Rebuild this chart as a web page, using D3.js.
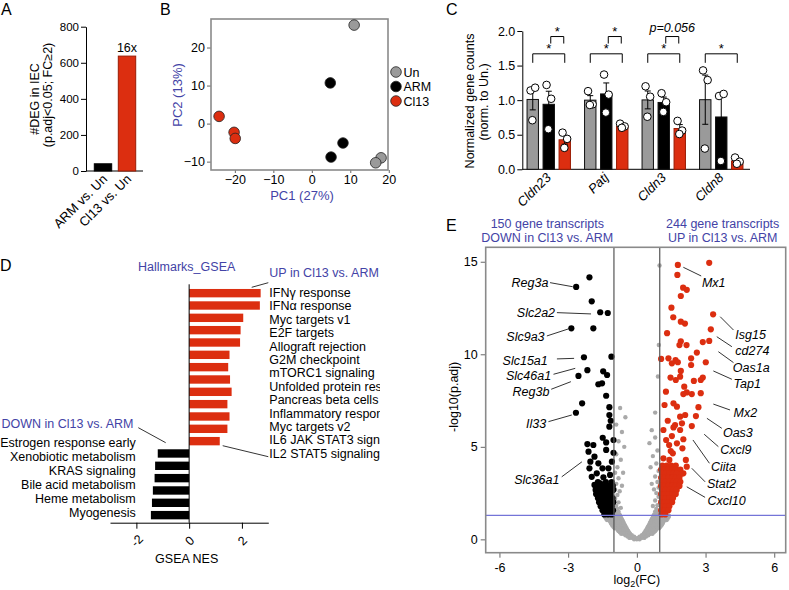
<!DOCTYPE html>
<html><head><meta charset="utf-8">
<script src="https://cdn.jsdelivr.net/npm/d3@7"></script>
<style>body{margin:0;background:#fff}</style>
</head><body>
<svg id="c" width="789" height="590"></svg>
<script>
// ---------------- DATA ----------------
// Panel A
const degCats = ["ARM vs. Un", "Cl13 vs. Un"];
const degValues = [40, 637];
const degTicks = [0, 200, 400, 600, 800];
const degFoldLabel = "16x";

// Panel B (PCA)
const pcaGroups = ["Un", "ARM", "Cl13"];
const pcaGroupOf = ["Un", "Un", "Un", "ARM", "ARM", "ARM", "Cl13", "Cl13", "Cl13"];
const pcaPC1 = [11.0, 18.0, 16.6, 4.8, 8.1, 5.0, -24.1, -20.2, -19.9];
const pcaPC2 = [25.9, -9.0, -10.3, 10.7, -5.1, -8.8, 1.9, -2.3, -3.9];
const pcaTicksX = [-20, -10, 0, 10, 20];
const pcaTicksY = [-10, 0, 10, 20];

// Panel C
const geneCats = ["Cldn23", "Patj", "Cldn3", "Cldn8"];
const geneUn   = [[1.14, 1.18, 0.71], [1.13, 0.94, 0.93], [1.20, 1.05, 0.76], [1.43, 1.29, 0.30]];
const geneARM  = [[1.22, 1.02, 0.58], [1.37, 1.08, 0.82], [1.10, 0.97, 0.83], [1.06, 1.09, 0.12]];
const geneCl13 = [[0.53, 0.44, 0.31], [0.66, 0.62, 0.60], [0.70, 0.56, 0.51], [0.17, 0.11, 0.08]];
const geneTicks = [0, 0.5, 1.0, 1.5, 2.0];
const sigLong  = ["*", "*", "*", "*"];        // Un vs Cl13
const sigShort = ["*", "*", "p=0.056", null]; // ARM vs Cl13
const sigLongLevel = 1.67, sigShortLevel = 1.92;

// Panel D (GSEA)
const gseaUpNames = ["IFN\u03b3 response", "IFN\u03b1 response", "Myc targets v1", "E2F targets",
  "Allograft rejection", "G2M checkpoint", "mTORC1 signaling", "Unfolded protein response",
  "Pancreas beta cells", "Inflammatory response", "Myc targets v2", "IL6 JAK STAT3 signaling",
  "IL2 STAT5 signaling"];
const gseaUpNES = [2.71, 2.68, 2.05, 1.95, 1.93, 1.53, 1.48, 1.55, 1.61, 1.45, 1.53, 1.45, 1.16];
const gseaDownNames = ["Estrogen response early", "Xenobiotic metabolism", "KRAS signaling",
  "Bile acid metabolism", "Heme metabolism", "Myogenesis"];
const gseaDownNES = [-1.19, -1.29, -1.31, -1.375, -1.41, -1.45];
const gseaTicks = [-2, 0, 2];

// Panel E (volcano) [log2FC, -log10 p.adj]
const volcanoDown = [
 [-2.07,14.16],[-2.65,13.64],[-1.97,12.86],[-1.60,12.27],[-1.27,12.23],[-2.86,11.40],[-1.90,11.40],
 [-2.31,9.84],[-1.11,9.87],[-2.16,9.14],[-1.47,9.08],[-1.30,8.88],[-2.55,8.83],[-1.68,8.38],[-1.52,8.43],
 [-1.34,7.76],[-2.39,7.35],[-2.66,6.84],[-1.20,7.14],[-1.20,6.72],[-1.14,6.41],[-1.20,6.09],[-1.49,5.49],
 [-2.16,5.15],[-1.90,5.10],[-1.02,5.37],[-1.34,5.24],[-1.34,4.83],[-2.11,4.74],[-1.85,4.47],[-1.02,4.68],
 [-2.03,4.20],[-1.68,4.11],[-1.09,4.20],[-2.07,3.84],[-1.50,3.84],[-1.24,3.84],[-1.97,3.38],[-1.75,3.57],
 [-1.46,3.35],[-1.17,3.48],[-1.85,2.94],[-1.60,3.03],
 [-1.70,3.10],[-1.35,3.10],[-1.10,3.10],
 [-1.75,2.89],[-1.55,2.89],[-1.38,2.89],[-1.20,2.89],[-1.05,2.89],
 [-1.80,2.67],[-1.64,2.67],[-1.48,2.67],[-1.32,2.67],[-1.16,2.67],[-1.03,2.67],
 [-1.78,2.45],[-1.62,2.45],[-1.46,2.45],[-1.30,2.45],[-1.14,2.45],
 [-1.70,2.23],[-1.54,2.23],[-1.38,2.23],[-1.22,2.23],[-1.06,2.23],
 [-1.65,2.01],[-1.49,2.01],[-1.33,2.01],[-1.17,2.01],[-1.03,2.01],
 [-1.58,1.79],[-1.42,1.79],[-1.26,1.79],[-1.10,1.79],
 [-1.50,1.57],[-1.34,1.57],[-1.18,1.57],[-1.04,1.57],
 [-1.42,1.35],[-1.26,1.35],[-1.10,1.35]
];
const volcanoUp = [
 [3.16,14.94],[1.79,14.83],[1.77,14.29],[2.02,13.60],[2.18,13.48],[1.92,13.15],[1.51,12.52],[3.33,12.16],
 [1.59,12.00],[1.92,11.76],[2.10,11.66],[3.23,11.35],[1.32,11.14],[3.16,10.72],[2.88,10.66],[1.92,10.70],
 [1.86,10.50],[2.17,10.50],[2.62,10.09],[1.06,9.75],[1.38,9.78],[1.69,9.69],[2.37,9.78],[1.53,9.51],
 [1.79,9.57],[2.37,9.42],[3.01,9.57],[1.92,9.10],[1.47,8.74],[1.70,8.61],[1.89,8.79],[2.49,8.56],
 [2.88,8.74],[2.79,8.61],[2.07,8.25],[1.27,7.98],[2.18,7.94],[2.79,7.90],[2.03,7.85],[2.40,7.85],
 [1.21,7.26],[1.60,7.35],[1.75,7.17],[2.69,7.14],[2.11,6.72],[1.89,6.63],[2.58,6.66],[1.35,6.41],
 [1.67,6.18],[1.97,6.27],[2.40,6.12],[1.16,5.91],[1.60,6.05],[1.89,5.91],[1.53,5.58],[2.03,5.41],
 [1.28,5.37],[1.41,5.10],[1.75,5.19],[1.99,4.92],[1.48,4.77],[1.57,4.65],[2.14,4.29],[1.16,4.38],
 [1.42,4.29],[2.18,3.93],[2.03,3.57],
 [1.12,3.99],[1.30,3.99],[1.50,3.99],[1.70,3.99],
 [1.06,3.77],[1.22,3.77],[1.38,3.77],[1.54,3.77],[1.70,3.77],[1.90,3.77],
 [1.10,3.55],[1.26,3.55],[1.42,3.55],[1.58,3.55],[1.74,3.55],[1.95,3.55],
 [1.06,3.33],[1.22,3.33],[1.38,3.33],[1.54,3.33],[1.70,3.33],[1.86,3.33],
 [1.10,3.11],[1.26,3.11],[1.42,3.11],[1.58,3.11],[1.74,3.11],[1.90,3.11],
 [1.06,2.89],[1.22,2.89],[1.38,2.89],[1.54,2.89],[1.70,2.89],[1.86,2.89],
 [1.10,2.67],[1.26,2.67],[1.42,2.67],[1.58,2.67],[1.74,2.67],
 [1.06,2.45],[1.22,2.45],[1.38,2.45],[1.54,2.45],[1.70,2.45],
 [1.10,2.23],[1.26,2.23],[1.42,2.23],[1.58,2.23],
 [1.06,2.01],[1.22,2.01],[1.38,2.01],[1.54,2.01],
 [1.10,1.79],[1.26,1.79],[1.42,1.79],
 [1.06,1.57],[1.22,1.57],[1.38,1.57],
 [1.08,1.35],[1.24,1.35]
];
const volcanoNS = [
 [-0.12,0.00],[0.00,0.00],[0.12,0.00],
 [-0.32,0.08],[-0.20,0.08],[-0.07,0.08],[0.07,0.08],[0.20,0.08],[0.32,0.08],
 [-0.40,0.15],[-0.26,0.15],[-0.12,0.15],[0.12,0.15],[0.26,0.15],[0.40,0.15],
 [-0.50,0.22],[-0.36,0.22],[-0.22,0.22],[0.22,0.22],[0.36,0.22],[0.50,0.22],
 [-0.68,0.30],[-0.58,0.30],[-0.44,0.30],[-0.30,0.30],[0.30,0.30],[0.44,0.30],[0.58,0.30],[0.68,0.30],
 [-0.74,0.38],[-0.62,0.38],[-0.48,0.38],[-0.34,0.38],[0.34,0.38],[0.48,0.38],[0.62,0.38],[0.74,0.38],
 [-0.80,0.45],[-0.66,0.45],[-0.52,0.45],[-0.38,0.45],[0.38,0.45],[0.52,0.45],[0.66,0.45],[0.80,0.45],
 [-0.84,0.52],[-0.70,0.52],[-0.56,0.52],[-0.42,0.52],[0.42,0.52],[0.56,0.52],[0.70,0.52],[0.84,0.52],
 [-0.97,0.60],[-0.87,0.60],[-0.73,0.60],[-0.59,0.60],[-0.45,0.60],[0.45,0.60],[0.59,0.60],[0.73,0.60],[0.87,0.60],[0.97,0.60],
 [-1.02,0.68],[-0.91,0.68],[-0.77,0.68],[-0.63,0.68],[-0.49,0.68],[0.49,0.68],[0.63,0.68],[0.77,0.68],[0.91,0.68],[1.02,0.68],
 [-1.07,0.75],[-0.94,0.75],[-0.80,0.75],[-0.66,0.75],[-0.52,0.75],[0.52,0.75],[0.66,0.75],[0.80,0.75],[0.94,0.75],[1.07,0.75],
 [-1.10,0.82],[-0.97,0.82],[-0.83,0.82],[-0.69,0.82],[-0.55,0.82],[0.55,0.82],[0.69,0.82],[0.83,0.82],[0.97,0.82],[1.10,0.82],
 [-1.14,0.90],[-1.00,0.90],[-0.86,0.90],[-0.72,0.90],[-0.58,0.90],[0.58,0.90],[0.72,0.90],[0.86,0.90],[1.00,0.90],[1.14,0.90],
 [-1.17,0.98],[-1.03,0.98],[-0.89,0.98],[-0.75,0.98],[-0.61,0.98],[0.61,0.98],[0.75,0.98],[0.89,0.98],[1.03,0.98],[1.17,0.98],
 [-1.30,1.05],[-1.20,1.05],[-1.06,1.05],[-0.92,1.05],[-0.78,1.05],[-0.64,1.05],[0.64,1.05],[0.78,1.05],[0.92,1.05],[1.06,1.05],[1.20,1.05],[1.30,1.05],
 [-1.34,1.12],[-1.23,1.12],[-1.09,1.12],[-0.95,1.12],[-0.81,1.12],[-0.67,1.12],[0.67,1.12],[0.81,1.12],[0.95,1.12],[1.09,1.12],[1.23,1.12],[1.34,1.12],
 [-1.38,1.20],[-1.26,1.20],[-1.12,1.20],[-0.98,1.20],[-0.84,1.20],[-0.70,1.20],[0.70,1.20],[0.84,1.20],[0.98,1.20],[1.12,1.20],[1.26,1.20],[1.38,1.20],
 [-1.40,1.28],[-1.29,1.28],[-1.15,1.28],[-1.01,1.28],[-0.87,1.28],[-0.73,1.28],[0.73,1.28],[0.87,1.28],[1.01,1.28],[1.15,1.28],[1.29,1.28],[1.40,1.28],
 [-0.90,1.35],[-0.76,1.35],[0.76,1.35],[0.90,1.35],
 [-0.94,1.50],[-0.80,1.50],[0.80,1.50],[0.94,1.50],
 [-0.85,1.65],[-0.70,1.70],[-0.90,1.80],[-0.80,2.00],[-0.95,2.20],[-0.85,2.40],
 [-0.95,2.70],[-0.75,2.60],[-0.90,3.00],[-0.65,2.90],[-0.80,3.30],[-0.95,3.60],[-0.60,3.60],[-0.85,3.90],
 [-0.70,4.30],[-0.90,4.60],[-0.55,5.00],[-0.80,5.30],[-0.65,5.80],[-0.90,6.20],[-0.50,6.60],[-0.73,7.10],
 [0.85,1.65],[0.70,1.80],[0.90,1.85],[0.80,2.10],[0.95,2.30],[0.85,2.50],
 [0.95,2.80],[0.75,2.70],[0.90,3.10],[0.65,3.00],[0.80,3.40],[0.95,3.70],[0.60,3.90],[0.85,4.10],
 [0.70,4.50],[0.90,4.80],[0.55,5.20],[0.80,5.50],[0.65,5.90],[0.80,6.85],[0.92,8.80],[0.96,10.50],[0.99,14.80]
];
const volcanoTicksX = [-6, -3, 0, 3, 6];
const volcanoTicksY = [0, 5, 10, 15];
const fcCut = 1, pCut = 1.301;
// gene labels: [name, side, textFC, textP, lineFromFC, lineFromP, lineToFC, lineToP]
const volcanoLabels = [
 ["Reg3a","L",-3.86,13.89,-3.79,13.87,-2.80,13.65],
 ["Slc2a2","L",-3.57,12.27,-3.49,12.25,-2.00,12.18],
 ["Slc9a3","L",-4.03,10.95,-3.93,10.99,-2.99,11.37],
 ["Slc15a1","L",-3.89,9.65,-3.49,9.75,-2.74,9.78],
 ["Slc46a1","L",-3.74,8.83,-3.64,8.92,-2.69,9.24],
 ["Reg3b","L",-3.82,7.96,-3.74,8.11,-2.88,8.52],
 ["Il33","L",-3.96,6.23,-3.86,6.36,-2.84,6.72],
 ["Slc36a1","L",-3.38,3.24,-3.28,3.38,-2.40,4.19],
 ["Mx1","R",2.84,13.87,2.03,14.70,2.81,14.23],
 ["Isg15","R",4.30,11.04,3.64,12.03,4.22,11.31],
 ["cd274","R",4.30,10.18,3.49,10.95,4.15,10.41],
 ["Oas1a","R",4.19,9.30,3.56,10.14,4.22,9.55],
 ["Tap1","R",4.22,8.43,3.34,9.10,4.15,8.65],
 ["Mx2","R",4.22,6.84,3.34,7.31,4.07,6.99],
 ["Oas3","R",3.76,5.76,3.06,6.54,3.71,6.00],
 ["Cxcl9","R",3.64,4.83,2.94,5.68,3.56,5.01],
 ["Ciita","R",3.24,3.92,2.45,5.37,3.17,4.11],
 ["Stat2","R",3.06,3.03,2.40,3.84,2.98,3.11],
 ["Cxcl10","R",3.08,2.12,2.18,2.84,2.98,2.27]
];

// ---------------- STYLE ----------------
const FONT = '"Liberation Sans", Arial, Helvetica, sans-serif';
const RED = "#dc2e10", RED_DARK = "#9a1c04", GRAY = "#9a9a9a", BLUE = "#4343a6";
const groupColor = {Un: GRAY, ARM: "#000", Cl13: RED};

const svg = d3.select("#c").attr("font-family", FONT);

function styleAxis(g, fs) {
  g.attr("font-family", FONT).attr("font-size", fs);
  g.selectAll("text").attr("fill", "#000");
  g.selectAll("line,path").attr("stroke", "#000").attr("stroke-width", 1);
  return g;
}
function panelLetter(t, x, y) {
  svg.append("text").attr("x", x).attr("y", y).attr("font-size", 16).text(t);
}

// ---------------- PANEL A ----------------
panelLetter("A", 1, 15);
const aY = d3.scaleLinear().domain([0, 800]).range([171, 26.7]);
const aX = d3.scaleBand().domain(degCats).range([91, 139]).paddingInner(0.275).paddingOuter(0.1375);
styleAxis(svg.append("g").attr("transform", "translate(86,0)")
  .call(d3.axisLeft(aY).tickValues(degTicks).tickSize(5).tickPadding(2).tickSizeOuter(0)), 11.5);
svg.append("line").attr("x1", 86).attr("x2", 143).attr("y1", aY(0)).attr("y2", aY(0)).attr("stroke", "#000");
svg.selectAll(".barA").data(degCats).enter().append("rect")
  .attr("x", d => aX(d)).attr("width", aX.bandwidth())
  .attr("y", (d, i) => aY(degValues[i])).attr("height", (d, i) => aY(0) - aY(degValues[i]))
  .attr("fill", (d, i) => i === 0 ? "#000" : RED)
  .attr("stroke", (d, i) => i === 0 ? "#000" : RED_DARK).attr("stroke-width", 1);
svg.append("text").attr("x", aX(degCats[1]) + aX.bandwidth() / 2).attr("y", aY(degValues[1]) - 4)
  .attr("text-anchor", "middle").attr("font-size", 12.5).text(degFoldLabel);
degCats.forEach(c => {
  svg.append("text").attr("transform", `translate(${aX(c) + aX.bandwidth() / 2 + 5},${aY(0) + 9}) rotate(-45)`)
    .attr("text-anchor", "end").attr("font-size", 13).text(c);
});
svg.append("text").attr("transform", "translate(39,99) rotate(-90)").attr("text-anchor", "middle")
  .attr("font-size", 12.5).text("#DEG in IEC");
svg.append("text").attr("transform", "translate(52,95) rotate(-90)").attr("text-anchor", "middle")
  .attr("font-size", 12.5).text("(p.adj<0.05; FC\u22652)");

// ---------------- PANEL B ----------------
panelLetter("B", 160, 15);
const bX = d3.scaleLinear().domain([-26.2, 19.8]).range([211, 388]);
const bY = d3.scaleLinear().domain([-12.2, 27.5]).range([170, 19]);
const gxB = svg.append("g").attr("transform", `translate(0,${bY.range()[0]})`)
  .call(d3.axisBottom(bX).tickValues(pcaTicksX).tickSize(3).tickPadding(2).tickSizeOuter(0));
const gyB = svg.append("g").attr("transform", `translate(${bX.range()[0]},0)`)
  .call(d3.axisLeft(bY).tickValues(pcaTicksY).tickSize(4).tickPadding(2).tickSizeOuter(0));
[gxB, gyB].forEach(g => { styleAxis(g, 12.5); g.select(".domain").remove(); g.selectAll("line").attr("stroke", "#666"); });
svg.append("rect").attr("x", bX.range()[0]).attr("y", bY.range()[1])
  .attr("width", bX.range()[1] - bX.range()[0]).attr("height", bY.range()[0] - bY.range()[1])
  .attr("fill", "none").attr("stroke", "#8a8a8a").attr("stroke-width", 1.6);
svg.selectAll(".pt").data(pcaPC1).enter().append("circle")
  .attr("cx", d => bX(d)).attr("cy", (d, i) => bY(pcaPC2[i])).attr("r", 5.3)
  .attr("fill", (d, i) => groupColor[pcaGroupOf[i]]).attr("stroke", "#222").attr("stroke-width", 0.8);
pcaGroups.forEach((g, i) => {
  svg.append("circle").attr("cx", 396).attr("cy", 72 + i * 14.5).attr("r", 5.3)
    .attr("fill", groupColor[g]).attr("stroke", "#222").attr("stroke-width", 0.8);
  svg.append("text").attr("x", 403.5).attr("y", 72 + i * 14.5 + 4.5).attr("font-size", 12.5).text(g);
});
svg.append("text").attr("x", 302).attr("y", 200).attr("text-anchor", "middle").attr("font-size", 13)
  .attr("fill", BLUE).text("PC1 (27%)");
svg.append("text").attr("transform", "translate(182,95) rotate(-90)").attr("text-anchor", "middle")
  .attr("font-size", 13).attr("fill", BLUE).text("PC2 (13%)");

// ---------------- PANEL C ----------------
panelLetter("C", 446, 15);
const cY = d3.scaleLinear().domain([0, 2]).range([169.3, 31]);
const cX0 = d3.scaleBand().domain(geneCats).range([520, 750]);
const cX1 = d3.scaleBand().domain(pcaGroups).range([-24, 24]).paddingInner(0.2875).paddingOuter(0.14375);
styleAxis(svg.append("g").attr("transform", "translate(522.3,0)")
  .call(d3.axisLeft(cY).tickValues(geneTicks).tickFormat(d3.format(".1f")).tickSize(5).tickPadding(2).tickSizeOuter(0)), 12.5);
svg.append("line").attr("x1", 522.3).attr("x2", 750).attr("y1", cY(0)).attr("y2", cY(0)).attr("stroke", "#000");
const geneSets = {Un: geneUn, ARM: geneARM, Cl13: geneCl13};
const jitter = [-2.2, 2.4, -0.4];
geneCats.forEach((gene, gi) => {
  const gc = cX0(gene) + cX0.bandwidth() / 2;
  const centerOf = grp => gc + cX1(grp) + cX1.bandwidth() / 2;
  pcaGroups.forEach(grp => {
    const vals = geneSets[grp][gi];
    const mean = d3.mean(vals);
    const sem = d3.deviation(vals) / Math.sqrt(vals.length);
    const x = gc + cX1(grp);
    const cx = x + cX1.bandwidth() / 2;
    svg.append("rect").attr("x", x).attr("width", cX1.bandwidth())
      .attr("y", cY(mean)).attr("height", cY(0) - cY(mean))
      .attr("fill", groupColor[grp]).attr("stroke", grp === "Cl13" ? RED_DARK : "#111").attr("stroke-width", 1);
    svg.append("line").attr("x1", cx).attr("x2", cx).attr("y1", cY(mean - sem)).attr("y2", cY(mean + sem)).attr("stroke", "#000");
    [mean - sem, mean + sem].forEach(v => svg.append("line").attr("x1", cx - 3).attr("x2", cx + 3)
      .attr("y1", cY(v)).attr("y2", cY(v)).attr("stroke", "#000"));
    vals.forEach((v, k) => svg.append("circle").attr("cx", cx + jitter[k]).attr("cy", cY(v)).attr("r", 3.8)
      .attr("fill", "#fff").attr("stroke", "#000").attr("stroke-width", 1));
  });
  const drawBracket = (x1, x2, lvl, label, drop) => {
    const y = cY(lvl);
    svg.append("path").attr("d", `M${x1},${y + drop}V${y}H${x2}V${y + drop}`).attr("fill", "none").attr("stroke", "#000");
    if (label === "*") svg.append("text").attr("x", (x1 + x2) / 2).attr("y", y - 1).attr("text-anchor", "middle")
      .attr("font-size", 13).text("*");
    else if (label) svg.append("text").attr("x", (x1 + x2) / 2).attr("y", y - 5).attr("text-anchor", "middle")
      .attr("font-size", 12.5).attr("font-style", "italic").text(label);
  };
  if (sigLong[gi]) drawBracket(centerOf("Un"), centerOf("Cl13"), sigLongLevel, sigLong[gi], 9);
  if (sigShort[gi]) drawBracket(centerOf("ARM") + 2, centerOf("Cl13") - 1, sigShortLevel, sigShort[gi], 7);
  svg.append("text").attr("transform", `translate(${gc + 3},${cY(0) + 9}) rotate(-45)`)
    .attr("text-anchor", "end").attr("font-size", 13).attr("font-style", "italic").text(gene);
});
svg.append("text").attr("transform", "translate(474,101) rotate(-90)").attr("text-anchor", "middle")
  .attr("font-size", 12.5).text("Normalized gene counts");
svg.append("text").attr("transform", "translate(487.5,102) rotate(-90)").attr("text-anchor", "middle")
  .attr("font-size", 12.5).text("(norm. to Un.)");

// ---------------- PANEL D ----------------
svg.append("defs").append("clipPath").attr("id", "clipD").append("rect")
  .attr("x", 0).attr("y", 240).attr("width", 380).attr("height", 350);
const gD = svg.append("g").attr("clip-path", "url(#clipD)");
gD.append("text").attr("x", 0).attr("y", 271).attr("font-size", 16).text("D");
const dX = d3.scaleLinear().domain([-3, 3]).range([110, 268.3]);
const allG = gseaUpNames.concat(gseaDownNames);
const allNES = gseaUpNES.concat(gseaDownNES);
const dY = d3.scaleBand().domain(allG).range([287, 521.3]).paddingInner(0.32).paddingOuter(0.16);
gD.selectAll(".barD").data(allG).enter().append("rect")
  .attr("x", (d, i) => dX(Math.min(0, allNES[i]))).attr("width", (d, i) => Math.abs(dX(allNES[i]) - dX(0)))
  .attr("y", d => dY(d)).attr("height", dY.bandwidth())
  .attr("fill", (d, i) => allNES[i] > 0 ? RED : "#000");
gD.append("line").attr("x1", dX(0)).attr("x2", dX(0)).attr("y1", 284.3).attr("y2", 522.7).attr("stroke", "#000");
const gxD = gD.append("g").attr("transform", "translate(0,522.7)")
  .call(d3.axisBottom(dX).tickValues(gseaTicks).tickSize(6).tickSizeOuter(0).tickFormat(d => String(d)));
styleAxis(gxD, 12.5);
gxD.selectAll(".tick text").attr("transform", "translate(0,18) rotate(-45)").attr("dy", "0.35em").attr("y", 0)
  .attr("text-anchor", "middle");
const dLabUp = d3.scalePoint().domain(gseaUpNames).range([292.7, 453.3]);
const dLabDown = d3.scalePoint().domain(gseaDownNames).range([442.7, 512.7]);
gseaUpNames.forEach(n => gD.append("text").attr("x", 269.3).attr("y", dLabUp(n)).attr("dy", "0.35em")
  .attr("font-size", 12.5).text(n));
gseaDownNames.forEach(n => gD.append("text").attr("x", 135.7).attr("y", dLabDown(n)).attr("dy", "0.35em")
  .attr("text-anchor", "end").attr("font-size", 12.5).text(n));
gD.append("text").attr("x", 186.7).attr("y", 271).attr("text-anchor", "middle").attr("font-size", 12.5)
  .attr("fill", BLUE).text("Hallmarks_GSEA");
gD.append("text").attr("x", 269.3).attr("y", 276.5).attr("font-size", 12.5).attr("fill", BLUE).text("UP in Cl13 vs. ARM");
gD.append("text").attr("x", 1.5).attr("y", 427.5).attr("font-size", 12.5).attr("fill", BLUE).text("DOWN in Cl13 vs. ARM");
[[251.7, 287.3, 268.3, 282.7], [138.3, 427.7, 165.7, 442.7], [222.7, 445.7, 268.3, 456.7]].forEach(l =>
  gD.append("line").attr("x1", l[0]).attr("y1", l[1]).attr("x2", l[2]).attr("y2", l[3]).attr("stroke", "#000").attr("stroke-width", 0.8));
gD.append("text").attr("x", 186.7).attr("y", 562.5).attr("text-anchor", "middle").attr("font-size", 12.5).text("GSEA NES");

// ---------------- PANEL E ----------------
panelLetter("E", 446, 231);
const eX = d3.scaleLinear().domain([-6.6, 6.5]).range([485.7, 785.7]);
const eY = d3.scaleLinear().domain([-0.72, 15.78]).range([552.7, 247.3]);
const gxE = svg.append("g").attr("transform", `translate(0,${eY.range()[0]})`)
  .call(d3.axisBottom(eX).tickValues(volcanoTicksX).tickSize(5).tickPadding(5).tickSizeOuter(0).tickFormat(d => String(d)));
const gyE = svg.append("g").attr("transform", `translate(${eX.range()[0]},0)`)
  .call(d3.axisLeft(eY).tickValues(volcanoTicksY).tickSize(5).tickSizeOuter(0));
[gxE, gyE].forEach(g => { styleAxis(g, 12.5); g.select(".domain").remove(); g.selectAll("line").attr("stroke", "#666"); });
svg.selectAll(".ns").data(volcanoNS).enter().append("circle")
  .attr("cx", d => eX(d[0])).attr("cy", d => eY(d[1])).attr("r", 2.2).attr("fill", "#a9a9a9");
svg.selectAll(".dn").data(volcanoDown).enter().append("circle")
  .attr("cx", d => eX(d[0])).attr("cy", d => eY(d[1])).attr("r", 3.1).attr("fill", "#000");
svg.selectAll(".up").data(volcanoUp).enter().append("circle")
  .attr("cx", d => eX(d[0])).attr("cy", d => eY(d[1])).attr("r", 3.1).attr("fill", RED);
[-fcCut, fcCut].forEach(v => svg.append("line").attr("x1", eX(v)).attr("x2", eX(v))
  .attr("y1", eY.range()[0]).attr("y2", eY.range()[1]).attr("stroke", "#555").attr("stroke-width", 1.2));
svg.append("line").attr("x1", eX.range()[0]).attr("x2", eX.range()[1]).attr("y1", eY(pCut)).attr("y2", eY(pCut))
  .attr("stroke", "#7474d8").attr("stroke-width", 1.2);
svg.append("rect").attr("x", eX.range()[0]).attr("y", eY.range()[1])
  .attr("width", eX.range()[1] - eX.range()[0]).attr("height", eY.range()[0] - eY.range()[1])
  .attr("fill", "none").attr("stroke", "#8a8a8a").attr("stroke-width", 1.6);
volcanoLabels.forEach(l => {
  svg.append("line").attr("x1", eX(l[4])).attr("y1", eY(l[5])).attr("x2", eX(l[6])).attr("y2", eY(l[7]))
    .attr("stroke", "#000").attr("stroke-width", 0.8);
  svg.append("text").attr("x", eX(l[2])).attr("y", eY(l[3])).attr("dy", "0.35em")
    .attr("text-anchor", l[1] === "L" ? "end" : "start").attr("font-size", 12.5).attr("font-style", "italic").text(l[0]);
});
svg.append("text").attr("x", 547.3).attr("y", 227.5).attr("text-anchor", "middle").attr("font-size", 12.5).attr("fill", BLUE).text("150 gene transcripts");
svg.append("text").attr("x", 547.3).attr("y", 241.5).attr("text-anchor", "middle").attr("font-size", 12.5).attr("fill", BLUE).text("DOWN in Cl13 vs. ARM");
svg.append("text").attr("x", 722.7).attr("y", 227.5).attr("text-anchor", "middle").attr("font-size", 12.5).attr("fill", BLUE).text("244 gene transcripts");
svg.append("text").attr("x", 722.7).attr("y", 241.5).attr("text-anchor", "middle").attr("font-size", 12.5).attr("fill", BLUE).text("UP in Cl13 vs. ARM");
const xl = svg.append("text").attr("x", eX(0)).attr("y", 584).attr("text-anchor", "middle").attr("font-size", 12.5);
xl.append("tspan").text("log");
xl.append("tspan").attr("font-size", 9).attr("dy", 3).text("2");
xl.append("tspan").attr("dy", -3).text("(FC)");
svg.append("text").attr("transform", `translate(458,${eY(7.7)}) rotate(-90)`).attr("text-anchor", "middle")
  .attr("font-size", 12.5).text("-log10(p.adj)");
</script>
</body></html>
